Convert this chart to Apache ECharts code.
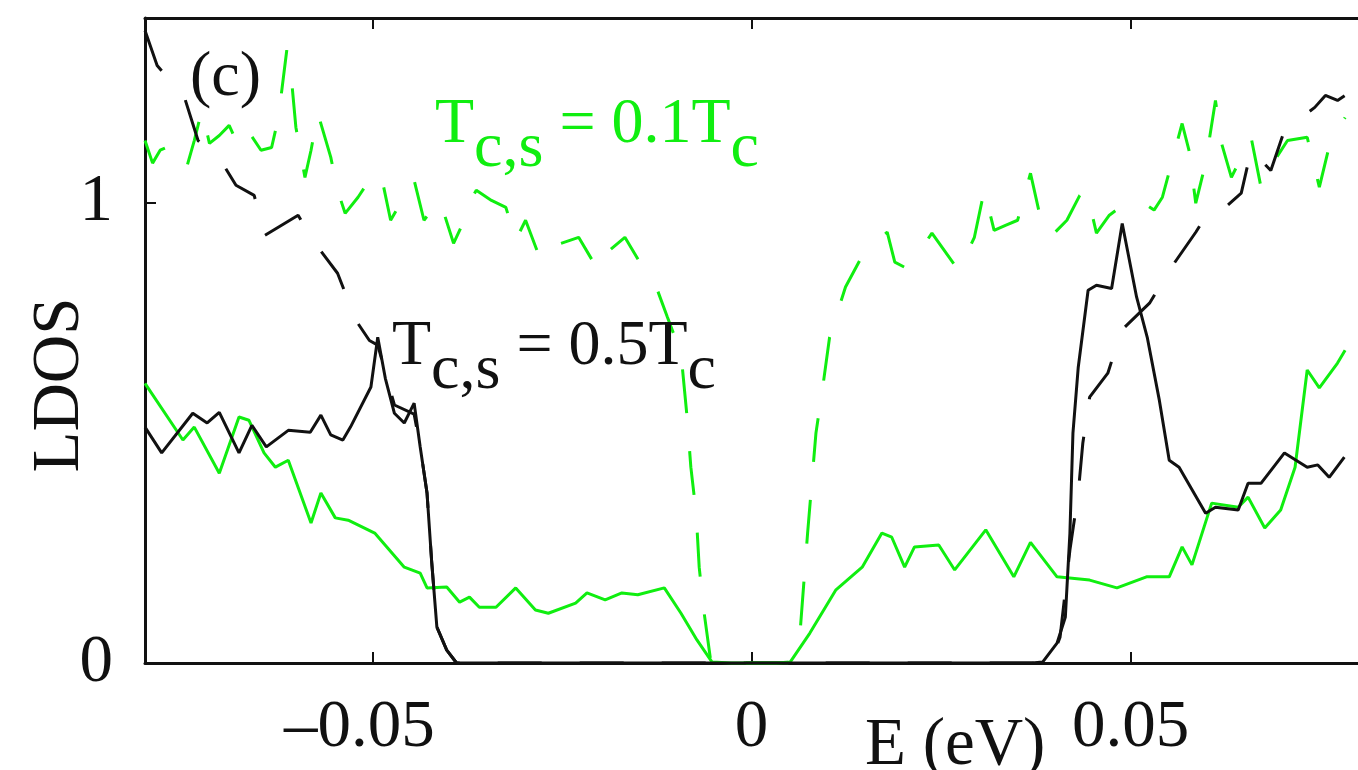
<!DOCTYPE html>
<html><head><meta charset="utf-8">
<script src="https://cdn.jsdelivr.net/npm/echarts@6/dist/echarts.min.js"></script>
<style>html,body{margin:0;padding:0;background:#fff}#c{width:1358px;height:770px}</style>
</head><body><div id="c"></div>
<script>
// ---- axis ticks ----
const xTicks = [-0.05, 0, 0.05];
const xTickLabels = ['\u20130.05', '0', '0.05'];
const yTicks = [0, 1];
const yTickLabels = ['0', '1'];

// ---- T_c,s = 0.5 T_c, solid black ----
const blackSolidE = [-0.0800,-0.0778,-0.0737,-0.0718,-0.0702,-0.0676,-0.0659,-0.0640,-0.0611,-0.0582,-0.0568,-0.0555,-0.0539,-0.0529,-0.0502,-0.0493,-0.0483,-0.0471,-0.0458,-0.0445,-0.0437,-0.0428,-0.0422,-0.0415,-0.0402,-0.0389,-0.02,0,0.02,0.0370,0.0384,0.0403,0.0414,0.0420,0.0424,0.0431,0.0444,0.0455,0.0475,0.0489,0.0508,0.0522,0.0538,0.0551,0.0564,0.0599,0.0612,0.0642,0.0655,0.0672,0.0703,0.0733,0.0747,0.0762,0.0782];
const blackSolidL = [0.512,0.456,0.542,0.521,0.544,0.456,0.516,0.469,0.505,0.501,0.538,0.495,0.484,0.512,0.599,0.707,0.618,0.542,0.521,0.564,0.469,0.369,0.223,0.078,0.028,0,0,0,0,0,0.002,0.043,0.100,0.282,0.499,0.642,0.809,0.820,0.813,0.954,0.794,0.707,0.570,0.440,0.425,0.325,0.338,0.332,0.390,0.390,0.456,0.425,0.430,0.403,0.447];

// ---- T_c,s = 0.5 T_c, dashed black ----
const blackDashE = [-0.0800,-0.0784,-0.0748,-0.0730,-0.0696,-0.0680,-0.0656,-0.0642,-0.0598,-0.0579,-0.0546,-0.0522,-0.0504,-0.0493,-0.0471,-0.0445,-0.0437,-0.0428,-0.0422,-0.0415,-0.0402,-0.0389,-0.02,0,0.02,0.0394,0.0407,0.0420,0.0431,0.0437,0.0446,0.0470,0.0488,0.0525,0.0553,0.0586,0.0600,0.0616,0.0646,0.0659,0.0685,0.0703,0.0743,0.0757,0.0773,0.0783];
const blackDashL = [1.373,1.297,1.228,1.134,1.080,1.037,1.015,0.928,0.972,0.918,0.846,0.744,0.700,0.690,0.560,0.540,0.469,0.369,0.223,0.078,0.028,0,0,0,0,0,0.056,0.245,0.369,0.477,0.577,0.629,0.722,0.781,0.857,0.935,0.972,0.976,1.020,1.113,1.069,1.156,1.206,1.232,1.221,1.232];

// ---- T_c,s = 0.1 T_c, solid green ----
const greenSolidE = [-0.0800,-0.0750,-0.0735,-0.0702,-0.0676,-0.0663,-0.0643,-0.0628,-0.0611,-0.0581,-0.0568,-0.0549,-0.0532,-0.0497,-0.0458,-0.0437,-0.0428,-0.0402,-0.0385,-0.0372,-0.0359,-0.0337,-0.0311,-0.0285,-0.0268,-0.0232,-0.0217,-0.0193,-0.0171,-0.0150,-0.0115,-0.0093,-0.0072,-0.0052,-0.0027,0.0033,0.0051,0.0077,0.0111,0.0146,0.0172,0.0185,0.0202,0.0215,0.0247,0.0268,0.0309,0.0346,0.0368,0.0403,0.0446,0.0482,0.0521,0.0551,0.0568,0.0581,0.0607,0.0642,0.0655,0.0677,0.0698,0.0717,0.0733,0.0749,0.0773,0.0783];
const greenSolidL = [0.607,0.484,0.512,0.412,0.534,0.527,0.456,0.425,0.440,0.304,0.369,0.315,0.310,0.282,0.208,0.195,0.163,0.165,0.132,0.143,0.121,0.121,0.163,0.115,0.108,0.130,0.152,0.137,0.152,0.148,0.163,0.108,0.050,0.002,0,0,0.002,0.065,0.158,0.208,0.282,0.273,0.208,0.252,0.256,0.202,0.289,0.187,0.262,0.187,0.180,0.163,0.187,0.187,0.252,0.213,0.347,0.338,0.360,0.293,0.332,0.425,0.636,0.597,0.651,0.679];

// ---- T_c,s = 0.1 T_c, dashed green ----
const greenDashE = [-0.0800,-0.0790,-0.0780,-0.0765,-0.0755,-0.0745,-0.0735,-0.0725,-0.0715,-0.0702,-0.0689,-0.0680,-0.0672,-0.0660,-0.0647,-0.0633,-0.0624,-0.0613,-0.0607,-0.0601,-0.0589,-0.0581,-0.0572,-0.0555,-0.0546,-0.0536,-0.0519,-0.0504,-0.0489,-0.0476,-0.0461,-0.0445,-0.0432,-0.0422,-0.0411,-0.0393,-0.0382,-0.0376,-0.0363,-0.0343,-0.0324,-0.0311,-0.0298,-0.0278,-0.0258,-0.0228,-0.0202,-0.0187,-0.0167,-0.0141,-0.0124,-0.0111,-0.0093,-0.0085,-0.0080,-0.0073,-0.0069,-0.0063,-0.0054,-0.0047,0.0048,0.0064,0.0074,0.0085,0.0094,0.0103,0.0124,0.0150,0.0166,0.0179,0.0189,0.0202,0.0218,0.0238,0.0273,0.0283,0.0294,0.0307,0.0320,0.0335,0.0351,0.0368,0.0381,0.0394,0.0416,0.0433,0.0442,0.0455,0.0472,0.0486,0.0512,0.0531,0.0542,0.0568,0.0577,0.0586,0.0599,0.0612,0.0620,0.0633,0.0659,0.0672,0.0690,0.0707,0.0733,0.0749,0.0763,0.0783];
const greenDashL = [1.134,1.085,1.113,1.124,1.113,1.076,1.134,1.200,1.128,1.145,1.167,1.134,1.113,1.145,1.113,1.119,1.184,1.330,1.271,1.163,1.054,1.113,1.193,1.098,1.026,0.976,1.011,1.048,1.063,0.961,1.004,1.048,0.961,0.983,1.004,0.911,0.950,0.989,1.026,1.004,0.989,0.918,0.961,0.874,0.907,0.924,0.852,0.896,0.924,0.852,0.809,0.751,0.672,0.534,0.425,0.325,0.208,0.115,0.007,0,0,0.065,0.282,0.499,0.599,0.707,0.816,0.896,0.918,0.935,0.870,0.859,0.885,0.933,0.852,0.885,0.924,1.026,0.939,0.950,0.961,1.063,0.967,0.924,0.961,1.015,1.026,0.933,0.972,0.989,1.004,0.983,1.011,1.171,1.113,0.998,1.085,1.221,1.128,1.054,1.141,1.033,1.091,1.134,1.141,1.033,1.128,1.184];

const zip = (a, b) => a.map((v, i) => [v, b[i]]);
const GREEN = '#10ee10';
const BLACK = '#111111';
const FONT = 'Liberation Serif';

function tickLabel(ticks, labels) {
  return v => {
    const i = ticks.findIndex(t => Math.abs(t - v) < 1e-9);
    if (i < 0) return '';
    return ticks[i] < 0 ? '{neg|' + labels[i] + '}' : labels[i];
  };
}

const chart = echarts.init(document.getElementById('c'), null, {renderer: 'canvas'});
const subRich = (color) => ({
  m: {fontFamily: FONT, fontSize: 64, lineHeight: 64, verticalAlign: 'top', fill: color},
  s: {fontFamily: FONT, fontSize: 64, lineHeight: 88, verticalAlign: 'bottom', fill: color}
});

chart.setOption({
  animation: false,
  backgroundColor: '#ffffff',
  grid: {left: 145, top: 18, width: 1226, height: 645, containLabel: false},
  xAxis: [{
    type: 'value', min: -0.08, max: 0.08, position: 'bottom',
    axisLine: {show: true, onZero: false, lineStyle: {color: BLACK, width: 3}},
    axisTick: {show: true, inside: true, length: 11, customValues: xTicks, lineStyle: {color: BLACK, width: 2}},
    axisLabel: {show: true, customValues: xTicks, formatter: tickLabel(xTicks, xTickLabels), margin: 32,
      fontFamily: FONT, fontSize: 67, color: BLACK,
      rich: {neg: {fontFamily: FONT, fontSize: 67, color: BLACK, padding: [0, 26, 0, 0]}}},
    splitLine: {show: false}
  }, {
    type: 'value', min: -0.08, max: 0.08, position: 'top',
    axisLine: {show: true, onZero: false, lineStyle: {color: BLACK, width: 3}},
    axisTick: {show: true, inside: true, length: 11, customValues: xTicks, lineStyle: {color: BLACK, width: 2}},
    axisLabel: {show: false},
    splitLine: {show: false}
  }],
  yAxis: [{
    type: 'value', min: 0, max: 1.4, position: 'left',
    axisLine: {show: true, onZero: false, lineStyle: {color: BLACK, width: 3}},
    axisTick: {show: true, inside: true, length: 11, customValues: yTicks, lineStyle: {color: BLACK, width: 2}},
    axisLabel: {show: true, customValues: yTicks, formatter: tickLabel(yTicks, yTickLabels), margin: 32,
      fontFamily: FONT, fontSize: 67, color: BLACK},
    splitLine: {show: false}
  }],
  series: [
    {name: 'green dashed', type: 'line', data: zip(greenDashE, greenDashL), showSymbol: false, z: 2,
      lineStyle: {color: GREEN, width: 3, type: [44, 38]}},
    {name: 'black dashed', type: 'line', data: zip(blackDashE, blackDashL), showSymbol: false, z: 3,
      lineStyle: {color: BLACK, width: 3, type: [44, 38]}},
    {name: 'green solid', type: 'line', data: zip(greenSolidE, greenSolidL), showSymbol: false, z: 4,
      lineStyle: {color: GREEN, width: 3}},
    {name: 'black solid', type: 'line', data: zip(blackSolidE, blackSolidL), showSymbol: false, z: 5,
      lineStyle: {color: BLACK, width: 3}}
  ],
  graphic: [
    {type: 'text', x: 190, y: 78, z: 10, style: {text: '(c)', fontFamily: FONT, fontSize: 64, fill: BLACK, align: 'left', verticalAlign: 'middle'}},
    {type: 'text', x: 435, y: 93, z: 10, style: {text: '{m|T}{s|c,s}{m| = 0.1T}{s|c}', align: 'left', verticalAlign: 'top', rich: subRich(GREEN)}},
    {type: 'text', x: 392, y: 315, z: 10, style: {text: '{m|T}{s|c,s}{m| = 0.5T}{s|c}', align: 'left', verticalAlign: 'top', rich: subRich(BLACK)}},
    {type: 'text', x: 865, y: 746, z: 10, style: {text: 'E (eV)', fontFamily: FONT, fontSize: 67, fill: BLACK, align: 'left', verticalAlign: 'middle'}},
    {type: 'text', x: 60, y: 385, rotation: Math.PI / 2, z: 10, style: {text: 'LDOS', fontFamily: FONT, fontSize: 67, fill: BLACK, align: 'center', verticalAlign: 'middle'}}
  ]
});
</script></body></html>
